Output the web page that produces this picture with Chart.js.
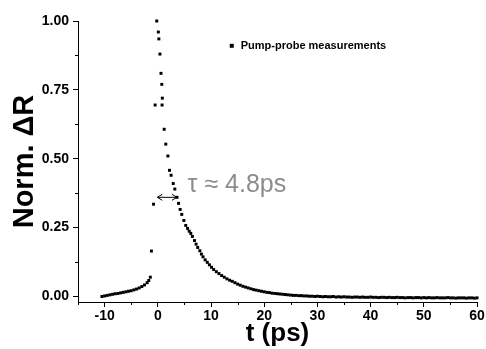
<!DOCTYPE html>
<html lang="en">
<head>
  <meta charset="UTF-8" />
  <title>Pump-probe measurements</title>
  <script src="https://cdn.jsdelivr.net/npm/chart.js"></script>
  <style>
    html, body { margin: 0; padding: 0; background: #fff; }
    #wrap { width: 486px; height: 349px; }
  </style>
</head>
<body>
  <div id="wrap"><canvas id="decay"></canvas></div>
  <script>
    // delay (ps) and normalised dR
    const delayPs = [
      -10.5, -10, -9.5, -9, -8.5, -8, -7.5, -7, -6.5, -6, -5.5, -5, -4.5, -4, -3.5, -3, -2.5, -2, -1.7, -1.4,
      -1.2, -0.8, -0.5, -0.2, 0.1, 0.2, 0.4, 0.6, 0.75, 0.8, 0.85,
      1.2, 1.5, 1.9, 2.2, 2.5, 2.9, 3.2, 3.6, 3.9, 4.2, 4.5, 4.9, 5.25,
      5.6, 5.9, 6.2, 6.5, 6.9, 7.2, 7.5, 7.9, 8.2, 8.5, 8.9, 9.3, 9.7, 10.1, 10.5,
      11, 11.5, 12, 12.5, 13, 13.5, 14, 14.5, 15, 15.5, 16, 16.5, 17, 17.5, 18, 18.5, 19, 19.5, 20,
      20.5, 21, 21.5, 22, 22.5, 23, 23.5, 24, 24.5, 25, 25.5, 26, 26.5, 27, 27.5, 28, 28.5, 29, 29.5, 30,
      30.5, 31, 31.5, 32, 32.5, 33, 33.5, 34, 34.5, 35, 35.5, 36, 36.5, 37, 37.5, 38, 38.5, 39, 39.5, 40,
      40.5, 41, 41.5, 42, 42.5, 43, 43.5, 44, 44.5, 45, 45.5, 46, 46.5, 47, 47.5, 48, 48.5, 49, 49.5, 50,
      50.5, 51, 51.5, 52, 52.5, 53, 53.5, 54, 54.5, 55, 55.5, 56, 56.5, 57, 57.5, 58, 58.5, 59, 59.5, 60
    ];
    const normDR = [
      0.000, 0.002, 0.004, 0.006, 0.008, 0.010, 0.011, 0.013, 0.015, 0.017, 0.019, 0.021, 0.024, 0.027, 0.031, 0.036, 0.042, 0.050, 0.058, 0.070,
      0.165, 0.335, 0.695, 1.000, 0.960, 0.935, 0.880, 0.810, 0.770, 0.695, 0.720,
      0.607, 0.553, 0.510, 0.458, 0.440, 0.410, 0.390, 0.360, 0.338, 0.316, 0.298, 0.276, 0.258,
      0.247, 0.237, 0.229, 0.218, 0.203, 0.190, 0.178, 0.166, 0.154, 0.144, 0.133, 0.124, 0.115, 0.106, 0.098,
      0.090, 0.083, 0.076, 0.070, 0.064, 0.059, 0.055, 0.050, 0.045, 0.041, 0.037, 0.034, 0.031, 0.028, 0.025, 0.023, 0.021, 0.019, 0.017,
      0.015, 0.014, 0.012, 0.011, 0.010, 0.009, 0.008, 0.007, 0.006, 0.005, 0.004, 0.004, 0.003, 0.003, 0.002, 0.002, 0.001, 0.001, 0.000, 0.001,
      0.000, -0.001, 0.000, -0.001, -0.001, 0.000, -0.002, -0.001, -0.002, -0.001, -0.002, -0.002, -0.003, -0.002, -0.002, -0.003, -0.002, -0.003, -0.003, -0.002,
      -0.003, -0.003, -0.004, -0.003, -0.003, -0.004, -0.003, -0.004, -0.004, -0.003, -0.004, -0.004, -0.005, -0.004, -0.004, -0.005, -0.004, -0.004, -0.005, -0.004,
      -0.005, -0.004, -0.005, -0.005, -0.004, -0.005, -0.005, -0.005, -0.004, -0.005, -0.005, -0.006, -0.005, -0.005, -0.005, -0.006, -0.005, -0.005, -0.006, -0.005
    ];
    const xMajorTicks = [-10, 0, 10, 20, 30, 40, 50, 60];
    const xMinorTicks = [-15, -5, 5, 15, 25, 35, 45, 55];
    const yMajorTicks = [0, 0.25, 0.5, 0.75, 1];
    const yMinorTicks = [0.125, 0.375, 0.625, 0.875];
    const legendText = 'Pump-probe measurements';
    const tauText = '\u03C4 \u2248 4.8ps';

    const FONT = '"Liberation Sans", Arial, sans-serif';
    const points = delayPs.map((t, i) => ({ x: t, y: normDR[i] }));
    const isMajor = (list, v) => list.some(m => Math.abs(m - v) < 1e-6);

    // short minor ticks, legend, lifetime note and arrow (placed in data units)
    const extras = {
      id: 'extras',
      afterDatasetsDraw(chart) {
        const { ctx, chartArea, scales: { x, y } } = chart;
        ctx.save();
        ctx.strokeStyle = '#000';
        ctx.lineWidth = 1;
        ctx.beginPath();
        xMinorTicks.forEach(v => {
          const px = Math.round(x.getPixelForValue(v)) + 0.5;
          ctx.moveTo(px, chartArea.bottom); ctx.lineTo(px, chartArea.bottom + 3);
        });
        yMinorTicks.forEach(v => {
          const py = Math.round(y.getPixelForValue(v)) + 0.5;
          ctx.moveTo(chartArea.left, py); ctx.lineTo(chartArea.left - 3, py);
        });
        ctx.stroke();

        // legend
        const lx = x.getPixelForValue(13.9), ly = y.getPixelForValue(0.91);
        ctx.fillStyle = '#000';
        ctx.fillRect(lx - 2, ly - 2, 4, 4);
        ctx.font = 'bold 11px ' + FONT;
        ctx.textBaseline = 'middle';
        ctx.textAlign = 'left';
        ctx.fillText(legendText, lx + 9, ly);
        // tau label
        ctx.font = '25px ' + FONT;
        ctx.fillStyle = '#8c8c8c';
        ctx.fillText(tauText, x.getPixelForValue(5.6), y.getPixelForValue(0.405));
        // double arrow
        const ax1 = x.getPixelForValue(-0.1), ax2 = x.getPixelForValue(3.6), ay = y.getPixelForValue(0.36);
        ctx.beginPath();
        ctx.moveTo(ax1, ay); ctx.lineTo(ax2, ay);
        ctx.moveTo(ax1 + 5, ay - 3); ctx.lineTo(ax1, ay); ctx.lineTo(ax1 + 5, ay + 3);
        ctx.moveTo(ax2 - 5, ay - 3); ctx.lineTo(ax2, ay); ctx.lineTo(ax2 - 5, ay + 3);
        ctx.stroke();
        ctx.restore();
      }
    };

    new Chart(document.getElementById('decay'), {
      type: 'scatter',
      data: {
        datasets: [{
          label: legendText,
          data: points,
          pointStyle: 'rect',
          pointRadius: 2.1,
          pointBorderWidth: 0,
          pointBackgroundColor: '#000',
          borderColor: '#000',
          clip: false
        }]
      },
      options: {
        responsive: true,
        maintainAspectRatio: false,
        animation: false,
        layout: { padding: { left: 8, right: 9, top: 21, bottom: 0 } },
        plugins: {
          legend: { display: false },
          tooltip: { enabled: false }
        },
        scales: {
          x: {
            type: 'linear',
            min: -15,
            max: 60,
            border: { display: true, color: '#000', width: 1 },
            grid: {
              drawOnChartArea: false, tickLength: 5,
              tickColor: c => isMajor(xMajorTicks, c.tick.value) ? '#000' : 'rgba(0,0,0,0)'
            },
            ticks: {
              stepSize: 5,
              padding: 1,
              color: '#000',
              font: { family: FONT, size: 14, weight: 'bold' },
              callback: v => isMajor(xMajorTicks, v) ? String(v) : ''
            },
            title: {
              display: true,
              text: 't (ps)',
              color: '#000',
              font: { family: FONT, size: 26, weight: 'bold' },
              padding: { top: 0, bottom: 0 }
            },
            afterFit: s => { s.height = 47; }
          },
          y: {
            type: 'linear',
            min: -0.02,
            max: 1.0,
            border: { display: true, color: '#000', width: 1 },
            grid: {
              drawOnChartArea: false, tickLength: 5,
              tickColor: c => isMajor(yMajorTicks, c.tick.value) ? '#000' : 'rgba(0,0,0,0)'
            },
            ticks: {
              stepSize: 0.125,
              includeBounds: false,
              padding: 4,
              color: '#000',
              font: { family: FONT, size: 14, weight: 'bold' },
              callback: v => isMajor(yMajorTicks, v) ? v.toFixed(2) : ''
            },
            title: {
              display: true,
              text: 'Norm. \u0394R',
              color: '#000',
              font: { family: FONT, size: 29, weight: 'bold' },
              padding: { top: 0, bottom: 0 }
            },
            afterFit: s => { s.width = 70; }
          }
        }
      },
      plugins: [extras]
    });
  </script>
</body>
</html>
